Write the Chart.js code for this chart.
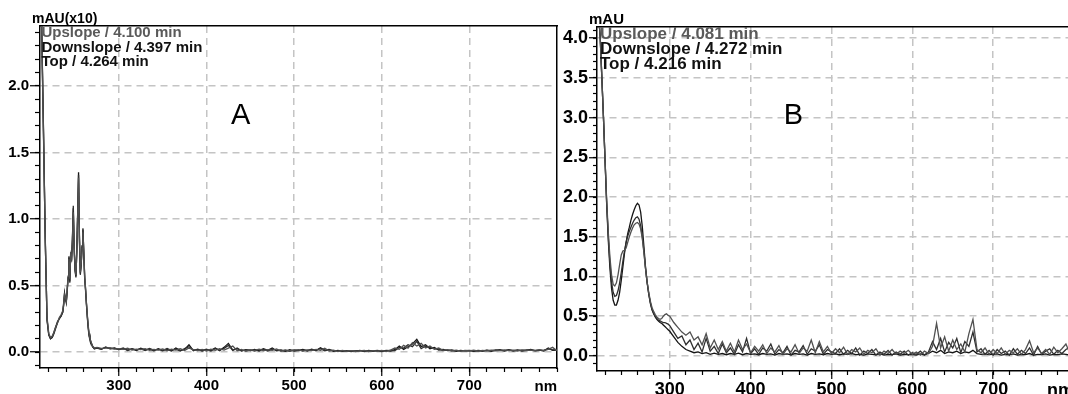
<!DOCTYPE html>
<html>
<head>
<meta charset="utf-8">
<script src="https://cdn.jsdelivr.net/npm/chart.js@4.4.1/dist/chart.umd.min.js"></script>
<style>
  html, body { margin: 0; padding: 0; background: #fff; overflow: hidden; width: 1068px; height: 394px; }
  .panel { position: absolute; top: 0; }
  #panelA { left: 0; width: 560px; height: 394px; }
  #panelB { left: 560px; width: 520px; height: 400px; }
</style>
</head>
<body>
<div class="panel" id="panelA"><canvas id="chartA" width="560" height="394"></canvas></div>
<div class="panel" id="panelB"><canvas id="chartB" width="520" height="400"></canvas></div>
<script>
var wavelengthsA = [
  210, 212, 214, 216, 218, 220, 222, 224, 226, 228, 230, 232, 234, 236,
  237, 238, 239, 240, 241, 242, 243, 244, 245, 246, 247, 248, 249, 250, 251, 252,
  253, 254, 255, 256, 257, 258, 259, 260, 261, 262, 263, 264, 265, 266, 267, 268,
  270, 272,
  275, 280, 285, 290, 295, 300, 305, 310, 315, 320,
  325, 330, 335, 340, 345, 350, 355, 360, 365, 370,
  375, 380, 385, 390, 395, 400, 405, 410, 415, 420,
  425, 430, 435, 440, 445, 450, 455, 460, 465, 470,
  475, 480, 485, 490, 495, 500, 505, 510, 515, 520,
  525, 530, 535, 540, 545, 550, 555, 560, 565, 570,
  575, 580, 585, 590, 595, 600, 605, 610, 615, 620,
  625, 630, 635, 640, 645, 650, 655, 660, 665, 670,
  675, 680, 685, 690, 695, 700, 705, 710, 715, 720,
  725, 730, 735, 740, 745, 750, 755, 760, 765, 770,
  775, 780, 785, 790, 795, 800
];

// panel A, mAU(x10)
var upslopeA = [
  3.0, 2.38, 1.62, 0.86, 0.26, 0.14, 0.11, 0.12, 0.15, 0.19, 0.22, 0.26, 0.28, 0.31,
  0.37, 0.43, 0.41, 0.38, 0.47, 0.57, 0.70, 0.55, 0.73, 0.70, 0.83, 1.05, 0.80, 0.63, 0.58, 0.75,
  1.02, 1.31, 0.88, 0.60, 0.67, 0.78, 0.90, 0.75, 0.57, 0.48, 0.37, 0.28, 0.20, 0.14, 0.10, 0.08,
  0.045, 0.03,
  0.035, 0.028, 0.030, 0.032, 0.022, 0.026, 0.020, 0.028, 0.014, 0.022,
  0.018, 0.026, 0.012, 0.020, 0.014, 0.024, 0.010, 0.022, 0.015, 0.025,
  0.012, 0.030, 0.018, 0.010, 0.020, 0.008, 0.022, 0.012, 0.025, 0.015,
  0.030, 0.045, 0.010, 0.020, 0.006, 0.016, 0.012, 0.022, 0.010, 0.018,
  0.012, 0.024, 0.006, 0.016, 0.008, 0.014, 0.018, 0.006, 0.016, 0.010,
  0.020, 0.012, 0.028, 0.008, 0.014, 0.004, 0.012, 0.006, 0.010, 0.004,
  0.008, 0.012, 0.004, 0.010, 0.006, 0.012, 0.004, 0.015, 0.030, 0.020,
  0.050, 0.030, 0.070, 0.045, 0.065, 0.030, 0.045, 0.020, 0.030, 0.012,
  0.018, 0.008, 0.014, 0.006, 0.012, 0.008, 0.014, 0.006, 0.012, 0.008,
  0.014, 0.008, 0.012, 0.016, 0.010, 0.014, 0.008, 0.016, 0.010, 0.014,
  0.012, 0.018, 0.010, 0.020, 0.035, 0.010
];
var downslopeA = [
  3.0, 2.42, 1.66, 0.84, 0.25, 0.13, 0.10, 0.11, 0.14, 0.18, 0.22, 0.25, 0.27, 0.30,
  0.35, 0.44, 0.39, 0.38, 0.45, 0.55, 0.72, 0.52, 0.75, 0.68, 0.85, 1.10, 0.77, 0.61, 0.56, 0.77,
  1.05, 1.33, 0.84, 0.58, 0.65, 0.80, 0.93, 0.73, 0.55, 0.46, 0.36, 0.26, 0.18, 0.12, 0.09, 0.07,
  0.04, 0.025,
  0.032, 0.020, 0.038, 0.024, 0.028, 0.020, 0.030, 0.012, 0.026, 0.016,
  0.024, 0.012, 0.026, 0.014, 0.020, 0.010, 0.026, 0.012, 0.022, 0.008,
  0.025, 0.040, 0.014, 0.018, 0.012, 0.022, 0.008, 0.026, 0.014, 0.028,
  0.050, 0.012, 0.030, 0.010, 0.014, 0.016, 0.008, 0.018, 0.020, 0.008,
  0.022, 0.014, 0.010, 0.012, 0.006, 0.016, 0.010, 0.014, 0.012, 0.018,
  0.014, 0.026, 0.010, 0.016, 0.010, 0.008, 0.010, 0.006, 0.008, 0.006,
  0.012, 0.004, 0.010, 0.008, 0.012, 0.006, 0.010, 0.012, 0.010, 0.035,
  0.030, 0.055, 0.040, 0.080, 0.025, 0.045, 0.035, 0.025, 0.022, 0.010,
  0.014, 0.010, 0.010, 0.008, 0.010, 0.012, 0.008, 0.010, 0.006, 0.012,
  0.010, 0.016, 0.012, 0.010, 0.018, 0.008, 0.012, 0.012, 0.016, 0.014,
  0.008, 0.012, 0.014, 0.024, 0.016, 0.020
];
var topA = [
  3.0, 2.40, 1.65, 0.85, 0.24, 0.13, 0.10, 0.11, 0.15, 0.19, 0.23, 0.25, 0.27, 0.30,
  0.36, 0.44, 0.40, 0.37, 0.46, 0.56, 0.71, 0.53, 0.74, 0.69, 0.84, 1.08, 0.78, 0.62, 0.57, 0.76,
  1.04, 1.35, 0.86, 0.59, 0.66, 0.79, 0.92, 0.74, 0.56, 0.47, 0.36, 0.27, 0.19, 0.13, 0.10, 0.08,
  0.04, 0.025,
  0.030, 0.022, 0.035, 0.025, 0.030, 0.018, 0.026, 0.015, 0.024, 0.012,
  0.028, 0.016, 0.022, 0.010, 0.025, 0.012, 0.020, 0.008, 0.030, 0.012,
  0.020, 0.055, 0.010, 0.022, 0.008, 0.018, 0.012, 0.030, 0.010, 0.035,
  0.065, 0.015, 0.025, 0.008, 0.018, 0.010, 0.020, 0.008, 0.025, 0.012,
  0.030, 0.010, 0.015, 0.005, 0.018, 0.008, 0.012, 0.020, 0.008, 0.022,
  0.010, 0.032, 0.015, 0.020, 0.006, 0.012, 0.005, 0.010, 0.004, 0.008,
  0.010, 0.005, 0.012, 0.006, 0.010, 0.004, 0.012, 0.008, 0.018, 0.045,
  0.020, 0.040, 0.060, 0.095, 0.040, 0.055, 0.025, 0.035, 0.015, 0.020,
  0.010, 0.015, 0.006, 0.012, 0.008, 0.010, 0.006, 0.012, 0.008, 0.014,
  0.006, 0.012, 0.018, 0.008, 0.015, 0.010, 0.016, 0.008, 0.012, 0.020,
  0.010, 0.014, 0.008, 0.030, 0.012, 0.015
];

var wavelengthsB = [
  210, 212, 214, 216, 218, 220, 222, 224, 226, 228,
  230, 232, 234, 236, 238, 240, 242, 244, 246, 248,
  250, 252, 254, 256, 258, 260, 262, 264, 266, 268,
  270, 272, 274, 276, 278, 280, 282, 284, 286, 288,
  290, 292, 294, 296, 298, 300,
  305, 310, 315, 320, 325, 330, 335, 340, 345, 350,
  355, 360, 365, 370, 375, 380, 385, 390, 395, 400,
  405, 410, 415, 420, 425, 430, 435, 440, 445, 450,
  455, 460, 465, 470, 475, 480, 485, 490, 495, 500,
  505, 510, 515, 520, 525, 530, 535, 540, 545, 550,
  555, 560, 565, 570, 575, 580, 585, 590, 595, 600,
  605, 610, 615, 620, 625, 630, 635, 640, 645, 650,
  655, 660, 665, 670, 675, 680, 685, 690, 695, 700,
  705, 710, 715, 720, 725, 730, 735, 740, 745, 750,
  755, 760, 765, 770, 775, 780, 785, 790, 795, 800
];

// panel B, mAU
var upslopeB = [
  4.6, 4.3, 4.0, 3.5, 3.0, 2.46, 1.95, 1.55, 1.24, 1.02,
  0.90, 0.88, 0.92, 1.02, 1.15, 1.27, 1.32, 1.33, 1.36, 1.43,
  1.50, 1.56, 1.61, 1.65, 1.67, 1.68, 1.66, 1.60, 1.48, 1.30,
  1.10, 0.93, 0.80, 0.69, 0.61, 0.56, 0.52, 0.49, 0.47, 0.46,
  0.47, 0.50, 0.52, 0.53, 0.51, 0.50,
  0.42, 0.36, 0.30, 0.26, 0.30, 0.20, 0.24, 0.14, 0.28, 0.10,
  0.20, 0.08, 0.18, 0.06, 0.16, 0.05, 0.20, 0.08, 0.15, 0.04,
  0.12, 0.06, 0.14, 0.03, 0.10, 0.05, 0.13, 0.02, 0.09, 0.05,
  0.14, 0.03, 0.10, 0.06, 0.20, 0.04, 0.18, 0.05, 0.12, 0.03,
  0.09, 0.04, 0.11, 0.02, 0.08, 0.05, 0.10, 0.02, 0.07, 0.04,
  0.09, 0.01, 0.06, 0.03, 0.08, 0.02, 0.06, 0.03, 0.07, 0.02,
  0.05, 0.01, 0.06, 0.03, 0.12, 0.41, 0.10, 0.24, 0.06, 0.20,
  0.08, 0.15, 0.05, 0.28, 0.46, 0.08, 0.04, 0.10, 0.02, 0.08,
  0.03, 0.10, 0.02, 0.07, 0.04, 0.09, 0.02, 0.08, 0.19, 0.04,
  0.10, 0.03, 0.08, 0.02, 0.11, 0.04, 0.09, 0.15, 0.03, 0.10
];
var downslopeB = [
  4.6, 4.3, 4.0, 3.5, 3.0, 2.45, 1.92, 1.50, 1.17, 0.93,
  0.80, 0.75, 0.76, 0.82, 0.92, 1.05, 1.19, 1.32, 1.43, 1.51,
  1.57, 1.62, 1.67, 1.71, 1.74, 1.75, 1.72, 1.64, 1.50, 1.32,
  1.10, 0.92, 0.78, 0.67, 0.59, 0.54, 0.50, 0.47, 0.45, 0.44,
  0.43, 0.42, 0.42, 0.41, 0.40, 0.38,
  0.30, 0.22, 0.25, 0.14, 0.20, 0.08, 0.16, 0.05, 0.22, 0.06,
  0.12, 0.03, 0.15, 0.04, 0.10, 0.02, 0.14, 0.05, 0.22, 0.03,
  0.09, 0.02, 0.10, 0.06, 0.15, 0.02, 0.08, 0.04, 0.12, 0.01,
  0.07, 0.05, 0.13, 0.02, 0.09, 0.06, 0.14, 0.02, 0.08, 0.05,
  0.03, 0.09, 0.02, 0.07, 0.03, 0.10, 0.01, 0.06, 0.03, 0.08,
  0.01, 0.05, 0.02, 0.07, 0.01, 0.05, 0.02, 0.06, 0.01, 0.04,
  0.02, 0.06, 0.01, 0.05, 0.18, 0.08, 0.22, 0.05, 0.17, 0.10,
  0.22, 0.04, 0.18, 0.12, 0.30, 0.05, 0.09, 0.02, 0.07, 0.01,
  0.08, 0.03, 0.06, 0.01, 0.09, 0.02, 0.07, 0.03, 0.10, 0.01,
  0.12, 0.02, 0.06, 0.09, 0.02, 0.07, 0.03, 0.08, 0.11, 0.04
];
var topB = [
  4.6, 4.3, 4.0, 3.5, 3.0, 2.45, 1.90, 1.45, 1.10, 0.85,
  0.70, 0.64, 0.64, 0.70, 0.80, 0.95, 1.12, 1.29, 1.43, 1.54,
  1.62, 1.71, 1.78, 1.84, 1.89, 1.92, 1.90, 1.81, 1.63, 1.38,
  1.12, 0.93, 0.78, 0.66, 0.58, 0.53, 0.49, 0.46, 0.44, 0.42,
  0.41, 0.39, 0.37, 0.35, 0.33, 0.31,
  0.24, 0.17, 0.12, 0.08, 0.06, 0.04, 0.05, 0.03, 0.04, 0.02,
  0.035, 0.02, 0.03, 0.015, 0.03, 0.02, 0.035, 0.015, 0.03, 0.02,
  0.025, 0.015, 0.03, 0.02, 0.025, 0.01, 0.03, 0.02, 0.025, 0.015,
  0.03, 0.02, 0.025, 0.01, 0.03, 0.02, 0.025, 0.015, 0.03, 0.02,
  0.025, 0.015, 0.025, 0.02, 0.03, 0.015, 0.02, 0.01, 0.025, 0.02,
  0.015, 0.025, 0.01, 0.02, 0.015, 0.025, 0.01, 0.02, 0.015, 0.02,
  0.01, 0.025, 0.015, 0.03, 0.06, 0.04, 0.07, 0.03, 0.05, 0.04,
  0.06, 0.03, 0.05, 0.04, 0.07, 0.03, 0.02, 0.025, 0.015, 0.02,
  0.025, 0.01, 0.02, 0.015, 0.025, 0.01, 0.02, 0.015, 0.03, 0.01,
  0.02, 0.015, 0.025, 0.01, 0.02, 0.015, 0.025, 0.02, 0.01, 0.02
];

var labelsA = ['Upslope / 4.100 min', 'Downslope / 4.397 min', 'Top / 4.264 min'];
var labelsB = ['Upslope / 4.081 min', 'Downslope / 4.272 min', 'Top / 4.216 min'];

// labelled ticks
var xTicks = [300, 400, 500, 600, 700];
var yTicksA = [0, 0.5, 1.0, 1.5, 2.0];
var yTicksB = [0, 0.5, 1.0, 1.5, 2.0, 2.5, 3.0, 3.5, 4.0];

var FONT = '"Liberation Sans", Arial, sans-serif';
var NM_MIN = 210, NM_MAX = 800;
var lineColors = ['#505050', '#2e2e2e', '#151515'];
var textColors = ['#5a5a5a', '#111111', '#111111'];

function points(xs, ys) {
  return xs.map(function (x, i) { return { x: x, y: ys[i] }; });
}

// force a scale's box size so the plot area lands where the original has it
function fixSize(size) {
  return function (scale) {
    if (scale.isHorizontal()) {
      scale.height = size;
    } else {
      scale.width = size;
    }
    scale.paddingLeft = scale.paddingRight = scale.paddingTop = scale.paddingBottom = 0;
  };
}

function useTicks(values) {
  return function (scale) {
    scale.ticks = values.map(function (v) { return { value: v }; });
  };
}

// unit above the y axis, labels of the three spectra, big panel letter
var panelText = {
  id: 'panelText',
  afterDatasetsDraw: function (chart, args, opts) {
    var ctx = chart.ctx, area = chart.chartArea;
    ctx.save();
    ctx.textBaseline = 'middle';
    ctx.textAlign = 'left';
    ctx.fillStyle = '#000';
    ctx.font = 'bold ' + opts.unitSize + 'px ' + FONT;
    ctx.fillText(opts.unit, area.left - opts.unitDx, area.top - opts.unitDy);
    ctx.font = 'bold ' + opts.size + 'px ' + FONT;
    chart.data.datasets.forEach(function (ds, i) {
      ctx.fillStyle = textColors[i];
      ctx.fillText(ds.label, area.left + opts.dx, area.top + opts.dy + i * opts.step);
    });
    ctx.textAlign = 'center';
    ctx.fillStyle = '#000';
    ctx.font = opts.letterSize + 'px ' + FONT;
    ctx.fillText(opts.letter,
      chart.scales.x.getPixelForValue(opts.letterAt[0]),
      chart.scales.y.getPixelForValue(opts.letterAt[1]));
    ctx.restore();
  }
};

function buildScales(s) {
  var gridColor = '#c4c4c4';
  var tickFont = { family: FONT, size: s.tickSize, weight: 'bold', lineHeight: 1 };
  return {
    xMinor: {
      type: 'linear', position: 'bottom', min: NM_MIN, max: NM_MAX,
      ticks: { display: false, stepSize: 20, includeBounds: false, autoSkip: false },
      grid: { drawOnChartArea: false, tickLength: s.xMinorLen, tickColor: '#000', tickWidth: 1.2 },
      border: { display: false },
      afterFit: fixSize(0)
    },
    yMinor: {
      type: 'linear', position: 'left', min: s.yMin, max: s.yMax,
      ticks: { display: false, stepSize: 0.1, includeBounds: false, autoSkip: false },
      grid: { drawOnChartArea: false, tickLength: s.yMinorLen, tickColor: '#000', tickWidth: 1.2 },
      border: { display: false },
      afterFit: fixSize(0)
    },
    x: {
      type: 'linear', position: 'bottom', min: NM_MIN, max: NM_MAX,
      afterBuildTicks: useTicks(xTicks),
      ticks: { autoSkip: false, maxRotation: 0, padding: s.xPad, color: '#000', font: tickFont },
      grid: { color: gridColor, lineWidth: 1.5, tickLength: s.xMajorLen, tickColor: '#000', tickWidth: 1.2 },
      border: { display: true, color: '#000', width: 1.5, dash: [7, 5] },
      title: { display: true, text: 'nm', align: 'end', color: '#000', font: tickFont, padding: 0 },
      afterFit: fixSize(s.xHeight)
    },
    y: {
      type: 'linear', position: 'left', min: s.yMin, max: s.yMax,
      afterBuildTicks: useTicks(s.yTicks),
      ticks: {
        autoSkip: false, padding: s.yPad, color: '#000', font: tickFont,
        callback: function (v) { return v.toFixed(1); }
      },
      grid: { color: gridColor, lineWidth: 1.5, tickLength: s.yMajorLen, tickColor: '#000', tickWidth: 1.2 },
      border: { display: true, color: '#000', width: 1.5, dash: [7, 5] },
      afterFit: fixSize(s.yWidth)
    },
    xTop: {
      type: 'linear', position: 'top', min: NM_MIN, max: NM_MAX,
      ticks: { display: false },
      grid: { drawOnChartArea: false, drawTicks: false },
      border: { display: true, color: '#000', width: 1.5 },
      afterFit: fixSize(0)
    },
    yRight: {
      type: 'linear', position: 'right', min: s.yMin, max: s.yMax,
      ticks: { display: false },
      grid: { drawOnChartArea: false, drawTicks: false },
      border: { display: true, color: '#000', width: 1.5 },
      afterFit: fixSize(0)
    }
  };
}

function makeChart(id, xs, series, labels, s) {
  var ctx = document.getElementById(id).getContext('2d');
  return new Chart(ctx, {
    type: 'line',
    data: {
      datasets: series.map(function (ys, i) {
        return {
          label: labels[i],
          data: points(xs, ys),
          xAxisID: 'x',
          yAxisID: 'y',
          borderColor: lineColors[i],
          borderWidth: 1.3,
          pointRadius: 0,
          tension: 0,
          fill: false
        };
      })
    },
    options: {
      responsive: false,
      animation: false,
      devicePixelRatio: 1,
      events: [],
      layout: { padding: { left: 0, right: s.padRight, top: s.padTop, bottom: 0 } },
      scales: buildScales(s),
      plugins: {
        legend: { display: false },
        tooltip: { enabled: false },
        panelText: s.text
      }
    },
    plugins: [panelText]
  });
}

makeChart('chartA', wavelengthsA, [upslopeA, downslopeA, topA], labelsA, {
  yMin: -0.12, yMax: 2.45, yTicks: yTicksA,
  padTop: 26, padRight: 3, yWidth: 40, xHeight: 26,
  tickSize: 15, xPad: 2, yPad: 1,
  xMajorLen: 8, xMinorLen: 4, yMajorLen: 10, yMinorLen: 5,
  text: {
    unit: 'mAU(x10)', unitSize: 14, unitDx: 8, unitDy: 7,
    size: 15, dx: 1.5, dy: 6.7, step: 14.7,
    letter: 'A', letterSize: 29, letterAt: [439, 1.77]
  }
});

makeChart('chartB', wavelengthsB, [upslopeB, downslopeB, topB], labelsB, {
  yMin: -0.19, yMax: 4.14, yTicks: yTicksB,
  padTop: 27, padRight: 6, yWidth: 37, xHeight: 29,
  tickSize: 18, xPad: 2, yPad: 1,
  xMajorLen: 8, xMinorLen: 4, yMajorLen: 8, yMinorLen: 4,
  text: {
    unit: 'mAU', unitSize: 15, unitDx: 8, unitDy: 7.5,
    size: 17, dx: 3, dy: 7, step: 15,
    letter: 'B', letterSize: 29, letterAt: [453, 3.02]
  }
});
</script>
</body>
</html>
